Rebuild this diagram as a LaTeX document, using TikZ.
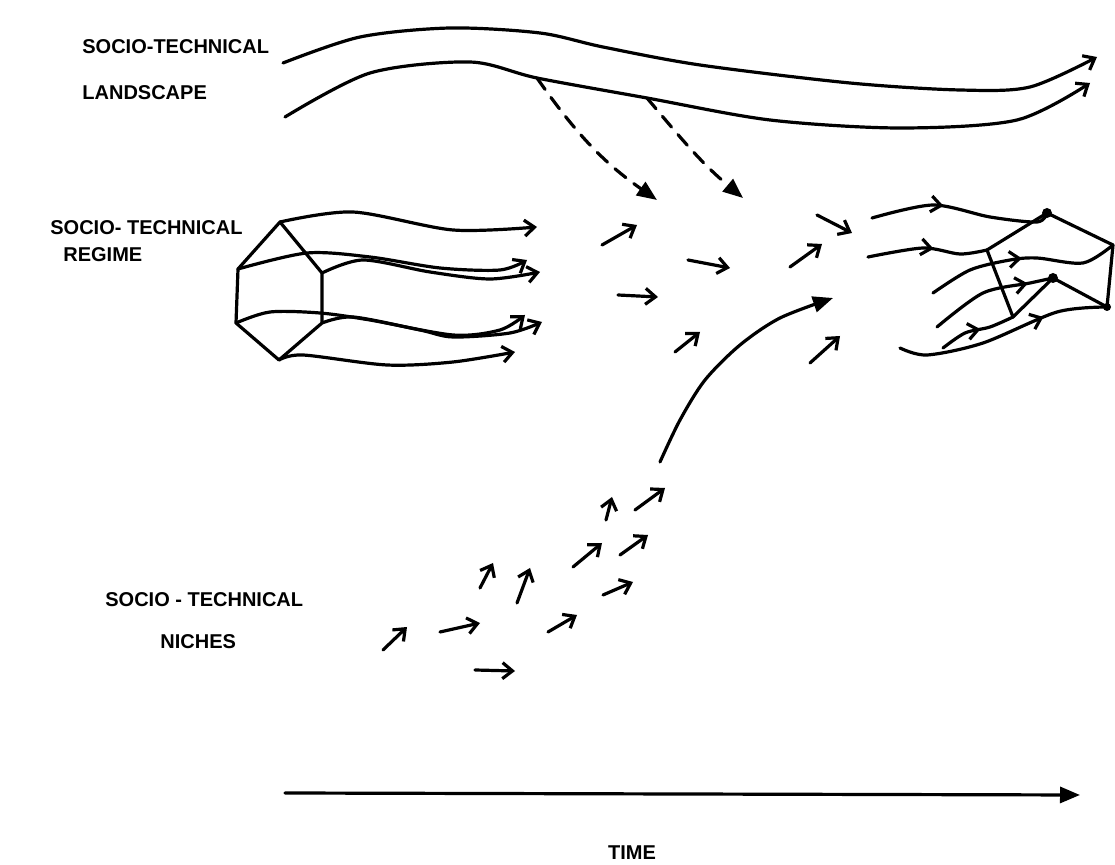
\documentclass[tikz,border=0pt]{standalone}
\usepackage{fontspec}
\setmainfont{Liberation Sans}
\usetikzlibrary{arrows.meta,decorations.markings}
\tikzset{
  sketch/.style={line width=1.6pt, line cap=round, line join=round},
  barb/.style={sketch, -{Straight Barb[length=5pt,width=8pt]}},
  shove/.style={sketch, -{Triangle[length=10pt,width=8pt]}},
  midbarb/.style={sketch, postaction={decorate},
    decoration={markings, mark=at position #1 with {\arrow{Straight Barb[length=5pt,width=8pt]}}}},
  lettering/.style={inner sep=0pt, anchor=west, font=\fontsize{10}{12}\selectfont\bfseries},
}
\begin{document}
\begin{tikzpicture}[x=0.5pt, y=-0.5pt]
            \useasboundingbox (0,0) rectangle (1115,865);
            % Labels
            \node[lettering] (land1) at (82,47) {SOCIO-TECHNICAL};
            \node[lettering] (land2) at (82,93) {LANDSCAPE};
            \node[lettering] (reg1) at (50,228) {SOCIO- TECHNICAL};
            \node[lettering] (reg2) at (63,255) {REGIME};
            \node[lettering] (nich1) at (105,600) {SOCIO - TECHNICAL};
            \node[lettering] (nich2) at (160,642) {NICHES};
            % Landscape
            \draw[barb] plot[smooth] coordinates {(283,63) (360,37) (450,28) (540,33) (603,47) (700,65) (850,83) (960,90) (1030,87) (1097,57)};
            \draw[barb] plot[smooth] coordinates {(285,117) (370,73) (470,62) (537,78) (647,98) (770,120) (900,128) (1017,120) (1090,83)};
            \coordinate (push1) at (537,78);
            \coordinate (push2) at (647,98);
            \draw[shove, dash pattern=on 7pt off 5pt] (push1) to[out=-55,in=145] (657,200);
            \draw[shove, dash pattern=on 7pt off 5pt] (push2) to[out=-50,in=140] (743,198);
            % Regime
            \coordinate (rt) at (280,222);
            \coordinate (rul) at (238,269);
            \coordinate (rll) at (236,323);
            \coordinate (rb) at (279,360);
            \coordinate (rlr) at (322,323);
            \coordinate (rur) at (322,273);
            \draw[sketch] (rt) -- (rul) -- (rll) -- (rb) -- (rlr) -- (rur) -- cycle;
            \draw[barb] plot[smooth] coordinates {(rt) (353,212) (453,230) (537,227)};
            \draw[barb] plot[smooth] coordinates {(rul) (307,253) (370,257) (440,268) (500,270) (527,260)};
            \draw[barb] plot[smooth] coordinates {(rur) (363,260) (430,272) (490,279) (540,272)};
            \draw[barb] plot[smooth] coordinates {(rll) (270,312) (320,313) (370,320) (453,335) (500,330) (525,315)};
            \draw[barb] plot[smooth] coordinates {(rlr) (353,317) (420,330) (453,337) (510,333) (542,322)};
            \draw[barb] plot[smooth] coordinates {(rb) (303,355) (387,365) (453,362) (515,352)};
            % Loose arrows
            \foreach \a/\b/\c/\d in {602/245/637/225, 688/260/730/268, 618/295/658/297, 675/352/700/332,
                                     817/215/852/233, 790/267/822/244, 810/363/840/336,
                                     383/650/407/627, 440/632/480/623, 475/670/515/671, 480/588/493/563,
                                     517/603/530/568, 548/632/577/615, 573/567/602/543, 603/595/633/582,
                                     606/520/612/497, 620/555/648/535, 635/510/665/488}
              \draw[barb] (\a,\b) -- (\c,\d);
            % Niche breaking through
            \draw[shove] plot[smooth] coordinates {(660,462) (680,420) (705,380) (740,345) (780,318) (833,298)};
            % New regime
            \coordinate (q1) at (1047,213);
            \coordinate (q2) at (1113,245);
            \coordinate (q3) at (1107,307);
            \coordinate (q4) at (1053,278);
            \coordinate (q5) at (1013,317);
            \coordinate (q6) at (987,250);
            \draw[sketch] (q1) -- (q2) -- (q3) -- (q4) -- (q5) -- (q6) -- cycle;
            \fill (q1) circle (2.5pt) (q4) circle (2.5pt) (q3) circle (2pt);
            \draw[midbarb=0.4] plot[smooth] coordinates {(872,218) (933,205) (990,217) (1037,222) (q1)};
            \draw[midbarb=0.55] plot[smooth] coordinates {(868,257) (923,248) (960,254) (q6)};
            \draw[midbarb=0.5] plot[smooth] coordinates {(933,293) (970,270) (1010,260) (1037,258) (1083,263) (q2)};
            \draw[midbarb=0.8] plot[smooth] coordinates {(937,327) (983,293) (1030,283) (q4)};
            \draw[midbarb=0.55] plot[smooth] coordinates {(943,348) (965,333) (990,327) (q5)};
            \draw[midbarb=0.7] plot[smooth] coordinates {(900,348) (927,355) (983,343) (1057,312) (q3)};
            % Time
            \coordinate (t0) at (285,793);
            \coordinate (t1) at (1080,795);
            \draw[shove] (t0) -- (t1);
            \node[lettering, anchor=center] (time) at (632,853) {TIME};
\end{tikzpicture}
\end{document}
